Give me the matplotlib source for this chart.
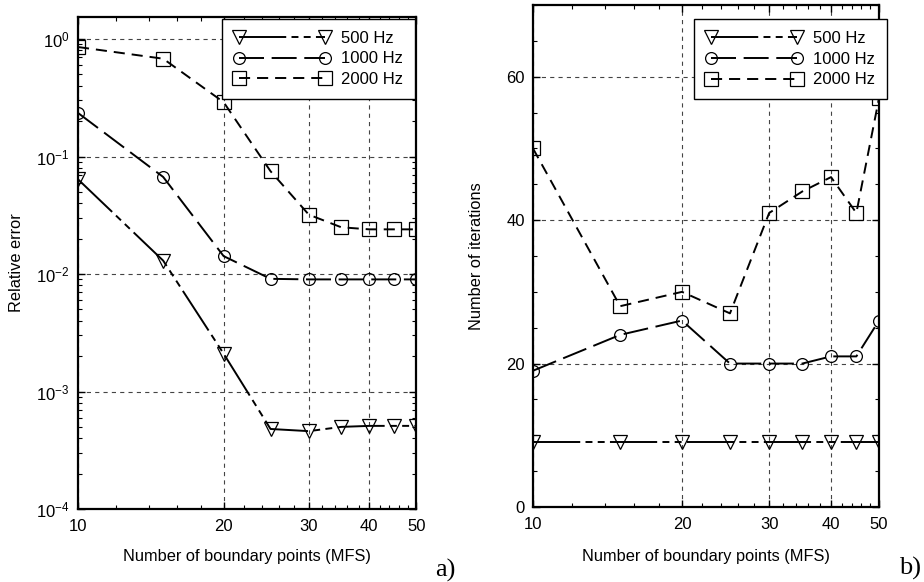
import matplotlib
matplotlib.use("Agg")
import matplotlib.pyplot as plt
from matplotlib.ticker import FixedLocator, FixedFormatter, LogLocator, MultipleLocator, NullFormatter

# ---------------------------------------------------------------------------
# Data
# ---------------------------------------------------------------------------

n_points = [10, 15, 20, 25, 30, 35, 40, 45, 50]

err_500 = [0.064, 0.013, 0.0021, 4.8e-4, 4.6e-4, 5.0e-4, 5.1e-4, 5.1e-4, 5.1e-4]
err_1000 = [0.235, 0.067, 0.0142, 0.0091, 0.009, 0.009, 0.009, 0.009, 0.009]
err_2000 = [0.855, 0.68, 0.29, 0.075, 0.032, 0.025, 0.024, 0.024, 0.024]

it_500 = [9, 9, 9, 9, 9, 9, 9, 9, 9]
it_1000 = [19, 24, 26, 20, 20, 20, 21, 21, 26]
it_2000 = [50, 28, 30, 27, 41, 44, 46, 41, 57]

labels = ["500 Hz", "1000 Hz", "2000 Hz"]
x_ticks = [10, 20, 30, 40, 50]

# ---------------------------------------------------------------------------
# Style
# ---------------------------------------------------------------------------

plt.rcParams["font.family"] = ["Liberation Sans", "DejaVu Sans"]
plt.rcParams["mathtext.fontset"] = "custom"
plt.rcParams["mathtext.rm"] = "Liberation Sans"
plt.rcParams["mathtext.it"] = "Liberation Sans"
plt.rcParams["lines.scale_dashes"] = False

styles = [
    dict(marker="v", ms=9.5, dashes=(34, 3.8, 5, 3.8, 5, 3.8)),
    dict(marker="o", ms=8.5, dashes=(18, 5.5)),
    dict(marker="s", ms=10, dashes=(8, 5)),
]


def draw_series(ax, x, series):
    for y, lab, st in zip(series, labels, styles):
        ax.plot(x, y, color="black", linewidth=1.4, dashes=st["dashes"],
                marker=st["marker"], markersize=st["ms"], markerfacecolor="none",
                markeredgecolor="black", markeredgewidth=0.9, label=lab)


def style_axes(ax, anchor):
    ax.set_xscale("log")
    ax.set_xlim(10, 50)
    ax.xaxis.set_major_locator(FixedLocator(x_ticks))
    ax.xaxis.set_major_formatter(FixedFormatter([str(t) for t in x_ticks]))
    ax.xaxis.set_minor_locator(FixedLocator(list(range(12, 50, 2))))
    ax.xaxis.set_minor_formatter(NullFormatter())
    ax.tick_params(which="both", direction="in", top=True, right=True, labelsize=12)
    ax.tick_params(which="major", length=5, width=1)
    ax.tick_params(which="minor", length=3, width=0.8)
    ax.tick_params(axis="x", pad=7)
    ax.tick_params(axis="y", pad=6)
    for sp in ax.spines.values():
        sp.set_linewidth(1.6)
    ax.grid(True, which="major", color="#444444", linestyle=(0, (3, 3)), linewidth=0.8)
    ax.set_xlabel("Number of boundary points (MFS)", fontsize=11.8)
    leg = ax.legend(loc="upper right", bbox_to_anchor=anchor, borderaxespad=0,
                    numpoints=2, handlelength=5.8, fontsize=12,
                    frameon=True, fancybox=False, edgecolor="black",
                    borderpad=0.7, labelspacing=0.35, handletextpad=0.66)
    leg.get_frame().set_linewidth(1.0)
    leg.get_frame().set_alpha(1)
    return leg


fig = plt.figure(figsize=(9.24, 5.82), dpi=100)

# ---- (a) Relative error ----
ax1 = fig.add_axes([0.0844, 0.1254, 0.366, 0.8454])
draw_series(ax1, n_points, [err_500, err_1000, err_2000])
ax1.set_yscale("log")
ax1.set_ylim(1e-4, 1.54)
ax1.yaxis.set_minor_locator(LogLocator(base=10, subs=range(2, 10)))
ax1.yaxis.set_minor_formatter(NullFormatter())
style_axes(ax1, (0.997, 0.996))
ax1.set_ylabel("Relative error", fontsize=11.8)
ax1.yaxis.set_label_coords(-0.16, 0.5)
ax1.xaxis.set_label_coords(0.5, -0.081)
fig.text(0.471, 0.0085, "a)", family="Liberation Serif", fontsize=19)

# ---- (b) Number of iterations ----
ax2 = fig.add_axes([0.5768, 0.1289, 0.3745, 0.8625])
draw_series(ax2, n_points, [it_500, it_1000, it_2000])
ax2.set_ylim(0, 70)
ax2.yaxis.set_major_locator(FixedLocator([0, 20, 40, 60]))
ax2.yaxis.set_minor_locator(MultipleLocator(5))
style_axes(ax2, (1.023, 0.972))
ax2.set_ylabel("Number of iterations", fontsize=11.8)
ax2.yaxis.set_label_coords(-0.142, 0.5)
ax2.xaxis.set_label_coords(0.5, -0.084)
fig.text(0.973, 0.0135, "b)", family="Liberation Serif", fontsize=19)

fig.savefig("out.png", dpi=100)
